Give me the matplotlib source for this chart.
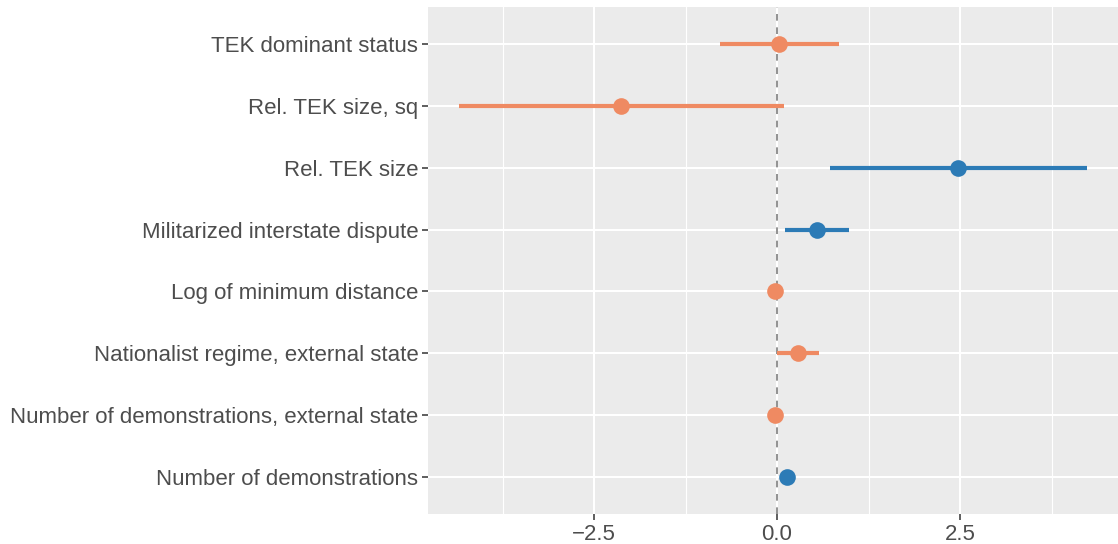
import matplotlib.pyplot as plt
import numpy as np

# data
labels = [
    "TEK dominant status",
    "Rel. TEK size, sq",
    "Rel. TEK size",
    "Militarized interstate dispute",
    "Log of minimum distance",
    "Nationalist regime, external state",
    "Number of demonstrations, external state",
    "Number of demonstrations",
]
estimate = [0.03, -2.13, 2.47, 0.55, -0.03, 0.29, -0.03, 0.14]
lower = [-0.78, -4.34, 0.72, 0.11, -0.05, 0.00, -0.05, 0.09]
upper = [0.85, 0.10, 4.23, 0.98, -0.01, 0.57, -0.01, 0.20]
positive = [False, False, True, True, False, False, False, True]

ORANGE = "#EF8A62"
BLUE = "#2C7BB6"

plt.rcParams['font.family'] = ['Liberation Sans', 'DejaVu Sans']

fig = plt.figure(figsize=(11.18, 5.44), dpi=100)
ax = fig.add_axes([428 / 1118, 30 / 544, 690 / 1118, 507 / 544])
ax.set_facecolor("#EBEBEB")

n = len(labels)
y = np.arange(n)[::-1]
colors = [BLUE if p else ORANGE for p in positive]

# grid
for gx in [-3.75, -1.25, 1.25, 3.75]:
    ax.axvline(gx, color="white", lw=0.8, zorder=0)
for gx in [-2.5, 0.0, 2.5]:
    ax.axvline(gx, color="white", lw=1.5, zorder=0)
for gy in y:
    ax.axhline(gy, color="white", lw=1.5, zorder=0)

ax.axvline(0, color="#7F7F7F", lw=1.2, ls=(0, (4, 4)), zorder=1)

for yi, e, lo, hi, c in zip(y, estimate, lower, upper, colors):
    ax.plot([lo, hi], [yi, yi], color=c, lw=3, solid_capstyle="butt", zorder=2)
    ax.plot(e, yi, "o", color=c, ms=12, mew=0, zorder=3)

xmin, xmax = min(lower), max(upper)
pad = (xmax - xmin) * 0.05
ax.set_xlim(xmin - pad, xmax + pad)
ax.set_ylim(-0.6, n - 1 + 0.6)

ax.set_yticks(y)
ax.set_yticklabels(labels)
ax.set_xticks([-2.5, 0.0, 2.5])
ax.set_xticklabels(["\u22122.5", "0.0", "2.5"])
ax.tick_params(colors="#333333", labelcolor="#4D4D4D", labelsize=16, length=4, width=1.1)
ax.tick_params(axis="x", pad=3)
ax.tick_params(axis="y", pad=3)

for s in ax.spines.values():
    s.set_visible(False)

plt.savefig("out.png", dpi=100)
